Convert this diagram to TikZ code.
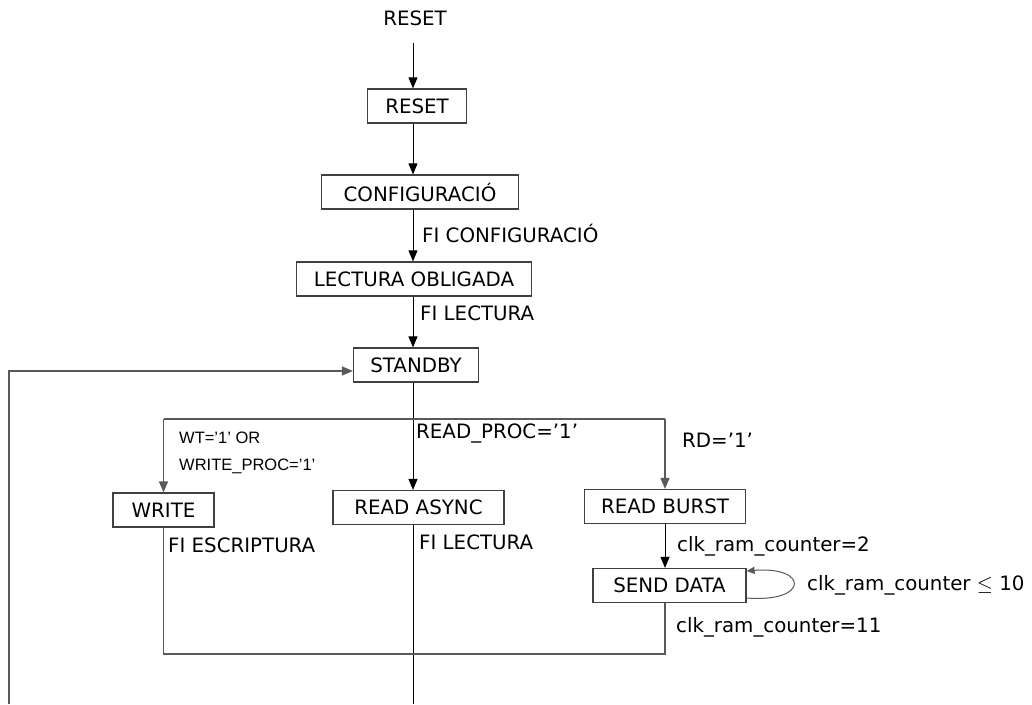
\documentclass[tikz,border=0pt]{standalone}
\usepackage{fontspec}
\setmainfont{DejaVu Sans}
\newfontfamily\condfont{Liberation Sans}
\usepackage{tikz}
\usetikzlibrary{arrows.meta,positioning,calc}

\tikzset{
  state/.style={draw=black!75, line width=1.2pt, minimum height=34pt, inner sep=0pt},
  lbl/.style={anchor=west, inner sep=0pt},
  small/.style={anchor=west, inner sep=0pt, font=\condfont\fontsize{16.5}{19}\selectfont},
  arr/.style={-{Triangle[length=11pt,width=9pt]}, line width=1pt},
  gline/.style={draw=black!65, line width=1.5pt},
  garr/.style={gline, -{Triangle[length=11pt,width=9pt]}},
}

\begin{document}
\begin{tikzpicture}[x=1pt, y=-1pt, font=\fontsize{19.8}{23}\selectfont]

  \useasboundingbox (0,0) rectangle (1032,704);

  % States
  \node (rst) at (415,18) {RESET};
  \node[state, minimum width=99pt] (reset) at (417,106) {RESET};
  \node[state, minimum width=197pt] (conf) at (420,192) {CONFIGURACIÓ};
  \node[state, minimum width=235pt] (lect) at (414,279) {LECTURA OBLIGADA};
  \node[state, minimum width=125pt] (stby) at (416,365) {STANDBY};
  \node[state, minimum width=101pt] (write) at (163.5,510) {WRITE};
  \node[state, minimum width=171pt] (async) at (418.5,507.5) {READ ASYNC};
  \node[state, minimum width=161pt] (burst) at (665,506.5) {READ BURST};
  \node[state, minimum width=153pt] (send) at (669.5,585.5) {SEND DATA};

  % Labels
  \node[lbl] (l1) at (422,233) {FI CONFIGURACIÓ};
  \node[lbl] (l2) at (420,313) {FI LECTURA};
  \node[small] (l3) at (179,438) {WT=’1’ OR};
  \node[small] (l4) at (179,466) {WRITE\_PROC=’1’};
  \node[lbl] (l5) at (416,433) {READ\_PROC=’1’};
  \node[lbl] (l6) at (682,440) {RD=’1’};
  \node[lbl] (l7) at (168,545) {FI ESCRIPTURA};
  \node[lbl] (l8) at (419,542) {FI LECTURA};
  \node[lbl] (l9) at (677,546) {clk\_ram\_counter=2};
  \node[lbl] (l10) at (807,585) {clk\_ram\_counter $\leq$ 10};
  \node[lbl] (l11) at (676,627) {clk\_ram\_counter=11};

  % Helper points
  \coordinate (col) at (413,0);
  \coordinate (br) at (413,419);
  \coordinate (ret) at (665,654);
  \coordinate (bot) at (413,704);
  \coordinate (fb) at (9,704);

  % Main column
  \draw[arr, shorten <=14pt] (rst.south -| col) -- (reset.north -| col);
  \draw[arr] (reset.south -| col) -- (conf.north -| col);
  \draw[arr] (conf.south -| col) -- (lect.north -| col);
  \draw[arr] (lect.south -| col) -- (stby.north -| col);
  \draw[arr] (stby.south -| col) -- (async.north -| col);
  \draw[line width=1pt] (async.south -| col) -- (bot);

  % Branches
  \draw[gline] (write.north |- br) -- (burst.north |- br);
  \draw[garr] (write.north |- br) -- (write.north);
  \draw[garr] (burst.north |- br) -- (burst.north);
  \draw[arr] (burst.south) -- (send.north -| burst);
  \draw[gline, -{Triangle[length=8pt,width=7pt]}, line width=1pt]
    ([yshift=-12.5pt]send.east) .. controls (809,603) and (809,566) .. ([yshift=14.5pt]send.east);

  % Return paths
  \draw[gline] (send.south -| burst) -- (ret) -| (write.south);
  \draw[garr] (fb) |- ([yshift=-6pt]stby.west);

\end{tikzpicture}
\end{document}
